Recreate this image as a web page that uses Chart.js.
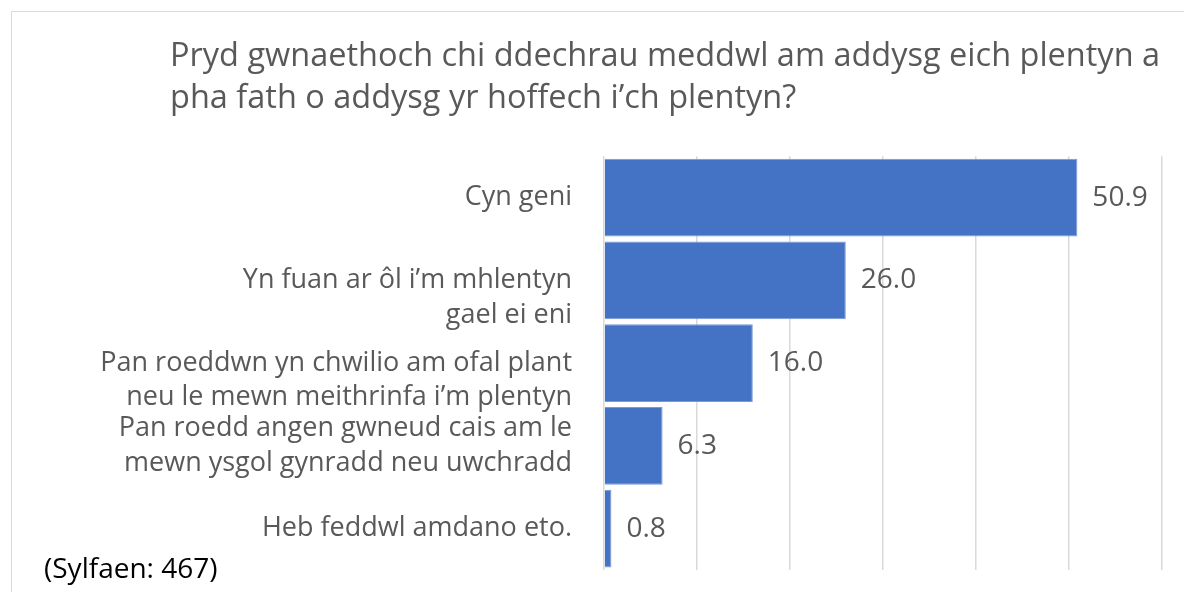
<!DOCTYPE html>
<html>
<head>
<meta charset="utf-8">
<script src="https://cdn.jsdelivr.net/npm/chart.js@4"></script>
<style>
  html, body { margin: 0; padding: 0; background: #fff; }
  #wrap { position: relative; width: 1184px; height: 592px; overflow: hidden; }
  #frame { position: absolute; left: 11px; top: 11px; width: 1200px; height: 620px;
           border: 1px solid #d9d9d9; box-sizing: border-box; }
  #chart { position: absolute; left: 0; top: 0; }
  #note { position: absolute; left: 44px; top: 549px; font: 28px 'Open Sans', sans-serif;
          line-height: 36px; color: #000; white-space: nowrap; }
</style>
</head>
<body>
<div id="wrap">
  <div id="frame"></div>
  <canvas id="chart" width="1184" height="592"></canvas>
  <div id="note">(Sylfaen: 467)</div>
</div>
<script>
const FONT = "'Open Sans', sans-serif";

// ── Data ──────────────────────────────────────────────────────────────
const titleLines = [
    'Pryd gwnaethoch chi ddechrau meddwl am addysg eich plentyn a',
    'pha fath o addysg yr hoffech i’ch plentyn?'
];
const categories = [
    ['Cyn geni'],
    ['Yn fuan ar ôl i’m mhlentyn', 'gael ei eni'],
    ['Pan roeddwn yn chwilio am ofal plant', 'neu le mewn meithrinfa i’m plentyn'],
    ['Pan roedd angen gwneud cais am le', 'mewn ysgol gynradd neu uwchradd'],
    ['Heb feddwl amdano eto.']
];
const percentages = [50.9, 26.0, 16.0, 6.3, 0.8];
const axisMin = 0;
const axisMax = 60;
const axisStep = 10;

// In the original these two wrapped labels sit low in their rows,
// so they get an empty first line to push them down
const loweredLabels = [1, 2];

// Value labels at the end of each bar
const valueLabelPlugin = {
    id: 'valueLabels',
    afterDatasetsDraw(chart) {
        const { ctx } = chart;
        const meta = chart.getDatasetMeta(0);
        ctx.save();
        ctx.font = '28px ' + FONT;
        ctx.fillStyle = '#595959';
        ctx.textAlign = 'left';
        ctx.textBaseline = 'middle';
        meta.data.forEach((bar, i) => {
            ctx.fillText(percentages[i].toFixed(1), bar.x + 15, bar.y);
        });
        ctx.restore();
    }
};

// Long category labels reach left of the title edge; let them draw there
const labelRoomPlugin = {
    id: 'labelRoom',
    afterLayout(chart) {
        chart.scales.y.left = 20;
    }
};

function draw() {
    /* global Chart */
    new Chart(document.getElementById('chart'), {
        type: 'bar',
        plugins: [valueLabelPlugin, labelRoomPlugin],
        data: {
            labels: categories,
            datasets: [{
                data: percentages,
                backgroundColor: '#4472C4',
                borderColor: '#7a9ad6',
                borderWidth: 1,
                barPercentage: 0.94,
                categoryPercentage: 1
            }]
        },
        options: {
            indexAxis: 'y',
            responsive: false,
            animation: false,
            layout: { padding: { left: 170, right: 22, top: 8, bottom: 22 } },
            plugins: {
                legend: { display: false },
                tooltip: { enabled: false },
                title: {
                    display: true,
                    text: titleLines,
                    align: 'start',
                    color: '#595959',
                    font: { family: FONT, size: 32.5, weight: 'normal', lineHeight: 1.28 },
                    padding: { top: 28, bottom: 37 }
                }
            },
            scales: {
                x: {
                    min: axisMin,
                    max: axisMax,
                    ticks: { display: false, stepSize: axisStep },
                    grid: { color: '#d9d9d9', lineWidth: 1.5, drawTicks: false },
                    border: { display: false },
                    afterFit: (scale) => { scale.height = 0; }
                },
                y: {
                    grid: { display: false },
                    border: { display: false },
                    ticks: {
                        autoSkip: false,
                        color: '#595959',
                        padding: 24,
                        font: { family: FONT, size: 27, lineHeight: 1.28 },
                        callback: (value, index) =>
                            loweredLabels.includes(index) ? ['', ...categories[index]] : categories[index]
                    },
                    afterFit: (scale) => {
                        scale.width = 434;
                        scale.paddingTop = 0;
                        scale.paddingBottom = 0;
                    }
                }
            }
        }
    });
}

if (document.fonts && document.fonts.load) {
    Promise.all([document.fonts.load('27px "Open Sans"'), document.fonts.load('32px "Open Sans"')])
        .then(draw, draw);
} else {
    draw();
}
</script>
</body>
</html>
